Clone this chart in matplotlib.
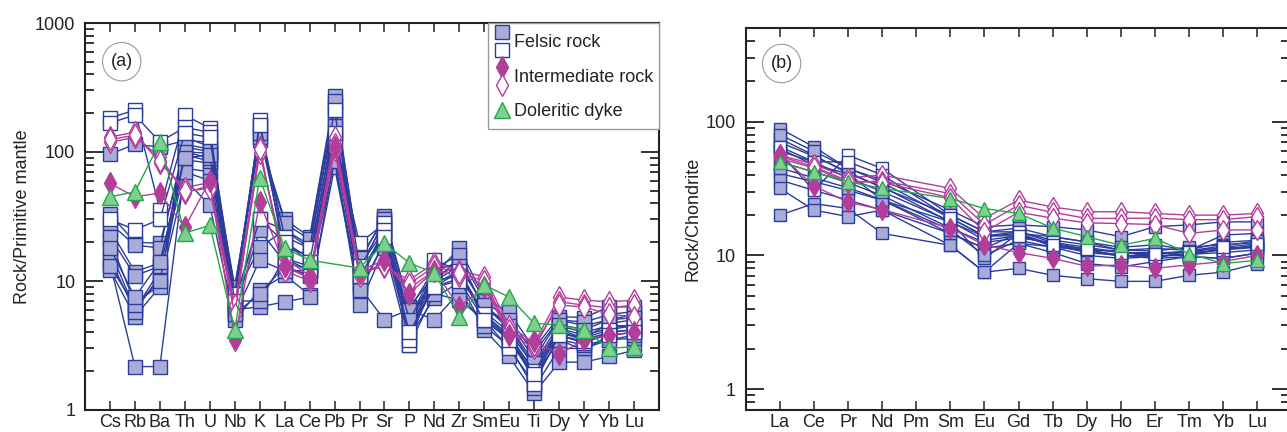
import numpy as np
import matplotlib
matplotlib.use('Agg')
import matplotlib.pyplot as plt
from matplotlib.lines import Line2D
from matplotlib.legend_handler import HandlerBase
from matplotlib.ticker import FixedLocator, LogLocator, NullFormatter, FixedFormatter

plt.rcParams['font.family'] = ['Liberation Sans', 'DejaVu Sans']

nan = np.nan

# (a) primitive-mantle normalised spider diagram
elems_a = ['Cs', 'Rb', 'Ba', 'Th', 'U', 'Nb', 'K', 'La', 'Ce', 'Pb', 'Pr', 'Sr',
           'P', 'Nd', 'Zr', 'Sm', 'Eu', 'Ti', 'Dy', 'Y', 'Yb', 'Lu']

felsic_a = [
    [96, 115, 109, 123, 119, 9.0, 123, 30, 22, 271, 14.1, 32, 6.3, 11.1, 18, 7.4, 5.7, 3.0, 5.3, 5.2, 6.3, 6.3],
    [33, 20, 19.6, 100, 98, 6.5, 30, 25, 19, 200, 13, 28, 5.2, 12, 14, 6.2, 4.5, 2.1, 4.2, 3.6, 4.7, 5.0],
    [25, 11.8, 13.8, 87, 82, 6.0, 24.7, 14, 12.2, 150, 10.8, 25, 4.3, 9.0, 11.8, 5.2, 3.6, 1.8, 3.5, 2.9, 3.8, 4.0],
    [20.8, 6.7, 9.3, 61, 38.7, 5.0, 8.5, 11.1, 7.8, 76, 8.1, 20, 3.7, 7.4, 9.8, 4.2, 2.6, 1.35, 2.35, 2.35, 2.6, 2.9],
    [17.4, 6.0, 12, 110, 100, 7.5, 18.3, 24.7, 18, 230, 12, 22, 5.5, 10, 13, 6.5, 4.2, 1.6, 4.5, 4.0, 4.5, 4.5],
    [13.8, 2.17, 2.17, 75, 70, 5.5, 14.5, 12, 12, 120, 9, 5.0, 6.0, 5.0, 8.2, 4.5, 3.1, 1.48, 3.0, 3.0, 3.5, 3.6],
    [12.2, 5.3, 9.0, 95, 85, 6.0, 6.3, 6.9, 7.5, 90, 6.5, 18, 3.2, 8.0, 7.1, 5.0, 3.5, 1.77, 3.5, 3.2, 3.5, 3.8],
    [15, 5.8, 11, 130, 110, 8.0, 160, 20, 15, 180, 12, 30, 4.8, 10, 15, 6.0, 4.8, 2.5, 5.0, 4.5, 5.0, 5.5],
    [28, 19, 18, 115, 105, 7.0, 7.0, 15, 13, 100, 9.5, 26, 4.5, 9.5, 12, 5.5, 3.8, 2.0, 4.0, 3.5, 4.0, 4.2],
    [22, 11, 13, 70, 60, 5.5, 8, 13, 11, 85, 8.5, 20, 5.5, 9, 10.5, 5.8, 4.0, 2.2, 4.3, 3.8, 4.3, 4.6],
    [13, 6.5, 10, 100, 90, 9, 130, 28, 21, 250, 15, 30, 6, 12.5, 16, 7, 5, 2.8, 5.0, 4.8, 5.5, 5.8],
    [18, 7.5, 14, 90, 95, 7, 140, 18, 16, 160, 11, 24, 5, 11, 13, 6.5, 4.5, 2.3, 4.6, 4.2, 5.0, 5.2],
]
felsic_open_a = [
    [184, 211, 35.5, 193, 153, 6.5, 176, 15, 12, 130, 19.6, 28, 3.2, 14.5, 12, 5.0, 3.0, 1.6, 3.8, 3.3, 4.0, 4.2],
    [168, 193, 120, 155, 142, 8, 162, 22, 18, 210, 13, 25, 3.5, 10, 11, 5.5, 3.6, 2.0, 4.0, 3.6, 4.2, 4.5],
    [30, 25, 30, 140, 130, 7, 30, 20, 14, 140, 11, 22, 4.0, 9, 10, 5, 3.5, 1.9, 3.8, 3.4, 3.8, 4.0],
]
inter_open_a = [
    [131, 142, 82, 53, 58, 6.0, 98, 15, 11, 130, 12, 12.8, 10.2, 13.8, 12, 10.8, 4.5, 3.3, 7.5, 7.1, 6.9, 7.1],
    [119, 130, 92, 48, 55, 6.5, 110, 12, 10, 103, 11, 14, 8.8, 12, 11, 9.5, 4.0, 3.0, 6.9, 6.5, 6.2, 6.5],
    [125, 135, 85, 50, 52, 5.5, 105, 13, 10.5, 115, 11.5, 13, 9.5, 13, 11.5, 10, 4.2, 3.2, 6.5, 6.3, 5.5, 5.3],
]
inter_fill_a = [
    [57, 45, 48, 26, 60, 3.5, 41, 13, 10.5, 110, 12, 14.5, 8, 12, 6.3, 9, 3.8, 3.4, 2.7, 3.5, 3.8, 4.0],
]
dyke_a = [
    [45, 49, 119, 23.5, 27, 4.2, 63, 18, 14.5, nan, 12.6, 19.6, 13.8, 11.5, 5.3, 9.3, 7.5, 4.7, 4.55, 4.2, 3.0, 3.1],
]

# (b) chondrite-normalised REE
elems_b = ['La', 'Ce', 'Pr', 'Nd', 'Pm', 'Sm', 'Eu', 'Gd', 'Tb', 'Dy', 'Ho', 'Er', 'Tm', 'Yb', 'Lu']

felsic_b = [
    [88.7, 64.7, 44.6, 36.6, nan, 21.8, 16.4, 16.9, 16.4, 15.5, 13.8, 16.4, 16.9, 17.8, 17.8],
    [74.6, 56, 40.9, 32.6, nan, 17.8, 13.8, 14.6, 13.8, 12.6, 10.9, 11.3, 10.9, 14.2, 14.6],
    [63, 47.2, 40.9, 25.9, nan, 17.8, 9.5, 14.6, 11.6, 10.9, 10.9, 9.5, 10.9, 11.3, 11.6],
    [40.9, 35.5, 30.6, 25.9, nan, 14.6, 11.3, 12.3, 11.6, 10.9, 10.0, 9.5, 9.8, 9.5, 10.4],
    [36.6, 30.6, 25.9, 21.8, nan, 11.9, 7.5, 12.3, 10.5, 8.7, 8.2, 9.0, 9.8, 9.5, 10.4],
    [20, 24.4, 22.4, 14.6, nan, 11.9, 7.5, 8.0, 7.1, 6.7, 6.4, 6.4, 7.1, 7.5, 8.7],
    [31.7, 21.8, 19.5, 21.8, nan, 14.6, 11.3, 14.6, 12.0, 10.5, 10.0, 10.0, 10.0, 11.3, 11.6],
    [70, 55, 42, 32, nan, 20, 15, 16, 13.8, 12.6, 11.5, 12, 11, 12.5, 13],
    [50, 42, 35, 28, nan, 16, 12.5, 13.5, 12.5, 11.5, 10.5, 10.5, 10.5, 11, 12],
    [80, 60, 45, 35, nan, 19, 14, 15, 13, 12, 11, 10.8, 11.5, 12, 12.5],
    [45, 38, 32, 26, nan, 15.5, 10, 13, 11.5, 10, 9.5, 9.8, 10.2, 10.5, 11.0],
    [60, 50, 38, 30, nan, 18, 13, 14, 12, 11, 9.8, 10.3, 10.8, 11.8, 12.8],
]
felsic_open_b = [
    [58, 30.6, 56, 44.6, nan, 20, 15, 15, 12.5, 11, 10, 9.8, 10.3, 11, 11.5],
    [65, 50, 50, 40, nan, 19, 14, 14, 12, 11.2, 10.5, 10.2, 10.6, 11.5, 12.2],
]
inter_open_b = [
    [56, 48, 38, 39.8, nan, 31.7, 18.9, 25.9, 23, 21.2, 21.2, 20.6, 20, 20, 20.6],
    [53, 45, 35, 36, nan, 29, 17, 23.7, 21, 18.9, 18.9, 19, 18.5, 18.5, 19.5],
    [55, 46, 36, 35, nan, 27, 15, 21, 19, 17.5, 17.3, 17, 14.6, 15.5, 15.5],
]
inter_fill_b = [
    [57, 33, 25, 22, nan, 16, 12, 10.5, 9.5, 8.3, 8.5, 8.0, 8.5, 9.0, 10],
]
dyke_b = [
    [50, 42, 35.5, 31.7, nan, 26.6, 22.4, 20.6, 16, 13.8, 11.9, 13.4, 10.3, 8.7, 9.2],
]

BLUE = '#2b3c9c'
LAV = '#a9abd8'
MAG = '#b23d9b'
GRN = '#22a84a'
LGRN = '#7fd08e'


def draw_set(ax, rows, color, marker, mfc, mec, ms, lw=1.0):
    for r in rows:
        v = np.array(r, dtype=float)
        xs = np.arange(len(v))
        ok = ~np.isnan(v)
        ax.plot(xs[ok], v[ok], color=color, lw=lw, marker=marker, ms=ms,
                mfc=mfc, mec=mec, mew=1.0, zorder=3)


def style_axes(ax, labels, ymin, ymax, majors):
    ax.set_yscale('log')
    ax.set_xlim(-1, len(labels) if len(labels) == 22 else 14.95)
    ax.set_ylim(ymin, ymax)
    ax.set_xticks(range(len(labels)))
    ax.set_xticklabels(labels)
    ax.yaxis.set_major_locator(FixedLocator(majors))
    ax.yaxis.set_major_formatter(FixedFormatter([str(int(m)) for m in majors]))
    ax.yaxis.set_minor_locator(LogLocator(base=10, subs=range(2, 10), numticks=20))
    ax.yaxis.set_minor_formatter(NullFormatter())
    ax.tick_params(axis='x', which='both', direction='in', top=True, bottom=True,
                   length=6.5, width=1.1, pad=3, labelsize=13, colors='#222222')
    ax.tick_params(axis='y', which='major', direction='in', left=True, right=True,
                   length=13, width=1.3, pad=7, labelsize=13, colors='#222222')
    ax.tick_params(axis='y', which='minor', direction='in', left=True, right=True,
                   length=6.5, width=1.1)
    for s in ax.spines.values():
        s.set_linewidth(1.5)
        s.set_color('#222222')


class StackedHandler(HandlerBase):
    def create_artists(self, legend, orig_handle, xdescent, ydescent,
                       width, height, fontsize, trans):
        n = len(orig_handle)
        gap = 1.0 * fontsize
        xc = width / 2 - xdescent
        yc = height / 2 - ydescent
        arts = []
        for i, h in enumerate(orig_handle):
            y = yc + (n - 1) / 2 * gap - i * gap
            ln = Line2D([xc], [y], ls='none', marker=h.get_marker(),
                        ms=h.get_markersize(), mfc=h.get_markerfacecolor(),
                        mec=h.get_markeredgecolor(), mew=h.get_markeredgewidth(),
                        transform=trans)
            arts.append(ln)
        return arts


fig = plt.figure(figsize=(12.87, 4.32), dpi=100)
axa = fig.add_axes([85 / 1287, 22 / 432, 574 / 1287, 387 / 432])
axb = fig.add_axes([745.7 / 1287, 22 / 432, 544 / 1287, 382 / 432])

# panel a
draw_set(axa, felsic_a, BLUE, 's', LAV, BLUE, 10)
draw_set(axa, felsic_open_a, BLUE, 's', 'white', BLUE, 10)
draw_set(axa, inter_open_a, MAG, 'd', 'white', MAG, 11)
draw_set(axa, inter_fill_a, MAG, 'd', MAG, MAG, 11)
draw_set(axa, dyke_a, GRN, '^', LGRN, GRN, 11)
style_axes(axa, elems_a, 1, 1000, [1, 10, 100, 1000])
axa.set_ylabel('Rock/Primitive mantle', fontsize=13, color='#222222', labelpad=3)

# panel b
draw_set(axb, felsic_b, BLUE, 's', LAV, BLUE, 9)
draw_set(axb, felsic_open_b, BLUE, 's', 'white', BLUE, 9)
draw_set(axb, inter_open_b, MAG, 'd', 'white', MAG, 10)
draw_set(axb, inter_fill_b, MAG, 'd', MAG, MAG, 10)
draw_set(axb, dyke_b, GRN, '^', LGRN, GRN, 10)
style_axes(axb, elems_b, 0.7, 500, [1, 10, 100])
axb.set_ylabel('Rock/Chondrite', fontsize=13, color='#222222', labelpad=3)

for ax, tag, px, py in [(axa, '(a)', 0.064, 0.900), (axb, '(b)', 0.066, 0.907)]:
    ax.text(px, py, tag, transform=ax.transAxes, ha='center', va='center',
            fontsize=13, color='#222222', zorder=6,
            bbox=dict(boxstyle='circle,pad=0.45', fc='white', ec='#9a9a9a', lw=0.8))

# legend with stacked symbols
h_fs = Line2D([], [], ls='none', marker='s', ms=10, mfc=LAV, mec=BLUE, mew=1.0)
h_fo = Line2D([], [], ls='none', marker='s', ms=10, mfc='white', mec=BLUE, mew=1.0)
h_if = Line2D([], [], ls='none', marker='d', ms=11, mfc=MAG, mec=MAG, mew=1.0)
h_io = Line2D([], [], ls='none', marker='d', ms=11, mfc='white', mec=MAG, mew=1.0)
h_d = Line2D([], [], ls='none', marker='^', ms=11, mfc=LGRN, mec=GRN, mew=1.0)
leg = axa.legend([(h_fs, h_fo), (h_if, h_io), (h_d,)],
                 ['Felsic rock', 'Intermediate rock', 'Doleritic dyke'],
                 handler_map={tuple: StackedHandler()},
                 loc='upper right', borderaxespad=0, fontsize=13,
                 handlelength=1.0, handleheight=1.8, handletextpad=0.15,
                 labelspacing=0.5, borderpad=0.3, fancybox=False,
                 edgecolor='#9a9a9a', framealpha=1)
leg.get_frame().set_linewidth(1.0)
leg.set_zorder(7)
for t in leg.get_texts():
    t.set_color('#222222')

fig.savefig('out.png', dpi=100)
